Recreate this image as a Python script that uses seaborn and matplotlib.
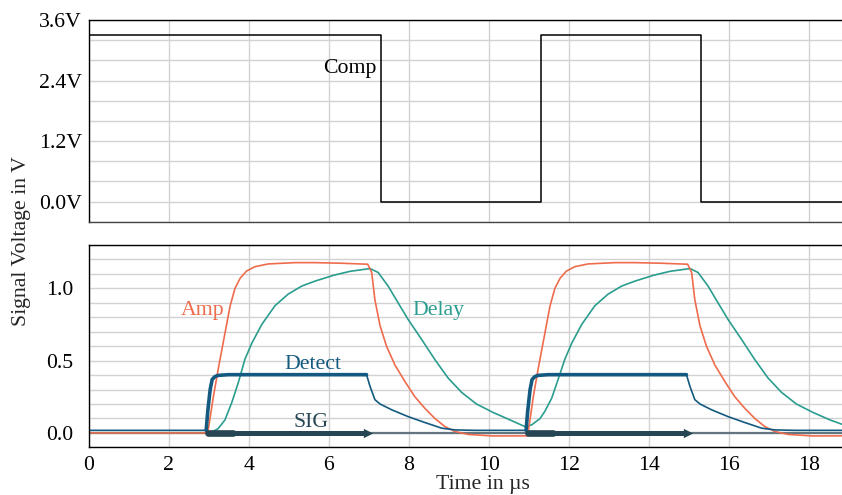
import numpy as np
import pandas as pd
import matplotlib
matplotlib.use("Agg")
import matplotlib.pyplot as plt
import seaborn as sns
from matplotlib.ticker import MultipleLocator, FixedLocator

# ---------------- data ----------------
comp_t = [0.0, 7.3, 7.3, 11.3, 11.3, 15.3, 15.3, 18.83]
comp_v = [3.3, 3.3, 0.0, 0.0, 3.3, 3.3, 0.0, 0.0]

amp_t = [0.0, 2.97, 3.11, 3.23, 3.40, 3.53, 3.65, 3.78, 3.94, 4.15, 4.48, 5.15, 5.65, 6.30,
         6.97, 7.07, 7.15, 7.28, 7.44, 7.65, 7.90, 8.15, 8.40, 8.65, 8.90, 9.15, 9.48, 10.11,
         10.97, 11.11, 11.23, 11.40, 11.53, 11.65, 11.78, 11.94, 12.15, 12.48, 13.15, 13.65,
         14.30, 14.97, 15.07, 15.15, 15.28, 15.44, 15.65, 15.90, 16.15, 16.40, 16.65, 16.90,
         17.15, 17.48, 18.11, 18.83]
amp_v = [0.0, 0.0, 0.25, 0.44, 0.69, 0.88, 1.00, 1.07, 1.12, 1.15, 1.169, 1.178, 1.178, 1.174,
         1.167, 1.11, 0.92, 0.74, 0.60, 0.47, 0.356, 0.25, 0.17, 0.10, 0.044, 0.01, -0.01, -0.021,
         -0.02, 0.25, 0.44, 0.69, 0.88, 1.00, 1.07, 1.12, 1.15, 1.169, 1.178, 1.178,
         1.174, 1.167, 1.11, 0.92, 0.74, 0.60, 0.47, 0.356, 0.25, 0.17, 0.10, 0.044,
         0.01, -0.01, -0.021, -0.02]

delay_t = [0.0, 3.03, 3.23, 3.40, 3.57, 3.73, 3.90, 4.07, 4.32, 4.65, 4.98, 5.32, 5.65, 6.11,
           6.53, 7.03, 7.23, 7.48, 7.73, 7.98, 8.32, 8.65, 8.98, 9.32, 9.69, 10.11, 10.53,
           10.90, 11.07, 11.28, 11.40, 11.57, 11.73, 11.90, 12.07, 12.32, 12.65, 12.98, 13.32,
           13.65, 14.11, 14.53, 15.03, 15.23, 15.48, 15.73, 15.98, 16.32, 16.65, 16.98, 17.32,
           17.69, 18.11, 18.53, 18.83]
delay_v = [0.0, 0.0, 0.03, 0.09, 0.21, 0.345, 0.51, 0.62, 0.75, 0.88, 0.96, 1.016, 1.05, 1.09,
           1.118, 1.137, 1.11, 1.016, 0.90, 0.785, 0.646, 0.507, 0.38, 0.28, 0.20, 0.141, 0.09,
           0.044, 0.056, 0.10, 0.15, 0.24, 0.37, 0.51, 0.62, 0.75, 0.88, 0.96, 1.016,
           1.05, 1.09, 1.118, 1.137, 1.11, 1.016, 0.90, 0.785, 0.646, 0.507, 0.38, 0.28,
           0.20, 0.141, 0.09, 0.06]

detect_t = [0.0, 2.93, 2.97, 3.03, 3.08, 3.15, 3.23, 3.48, 6.94, 7.03, 7.15, 7.28, 7.57, 7.98,
            8.40, 8.82, 9.15, 9.65, 10.93, 10.97, 11.03, 11.08, 11.15, 11.23, 11.48, 14.94,
            15.03, 15.15, 15.28, 15.57, 15.98, 16.40, 16.82, 17.15, 17.65, 18.83]
detect_v = [0.018, 0.018, 0.15, 0.30, 0.37, 0.39, 0.398, 0.403, 0.403, 0.32, 0.23, 0.20, 0.16,
            0.113, 0.072, 0.033, 0.021, 0.018, 0.018, 0.15, 0.30, 0.37, 0.39, 0.398, 0.403,
            0.403, 0.32, 0.23, 0.20, 0.16, 0.113, 0.072, 0.033, 0.021, 0.018, 0.018]
detect_hold_start = [2.93, 10.93]
detect_hold_end = [6.94, 14.94]

sig_base_t = [0.0, 18.83]
sig_base_v = [0.0, 0.0]
sig_on = [2.97, 10.97]
sig_off = [6.97, 14.97]
sig_burst = [3.6, 11.6]

top_ticks = [0.0, 1.2, 2.4, 3.6]
top_labels = ["0.0V", "1.2V", "2.4V", "3.6V"]
bot_ticks = [0.0, 0.5, 1.0]
bot_labels = ["0.0", "0.5", "1.0"]
x_ticks = [0, 2, 4, 6, 8, 10, 12, 14, 16, 18]

C_AMP = "#ee6c4d"
C_DELAY = "#2a9d8f"
C_DETECT = "#145a80"
C_SIG = "#264653"
C_BASE = "#627580"

# ---------------- style ----------------
sns.set_theme(style="white")
plt.rcParams['font.family'] = ['Liberation Serif', 'DejaVu Serif']
FS = 15.7
GRID = "#d2d2d2"

fig = plt.figure(figsize=(8.42, 4.95), dpi=100)
W, H = 842, 495
L = 89 / W
AW = (W - 89) / W
ax1 = fig.add_axes([L, 1 - 221.7 / H, AW, (221.7 - 20) / H])
ax2 = fig.add_axes([L, 1 - 447.4 / H, AW, (447.4 - 245) / H])

XMAX = 18.83

# ---- top panel ----
sns.lineplot(x=comp_t, y=comp_v, ax=ax1, color="black", linewidth=1.1,
             sort=False, estimator=None)
ax1.set_xlim(0, XMAX)
ax1.set_ylim(-0.4, 3.6)
ax1.yaxis.set_major_locator(FixedLocator(top_ticks))
ax1.set_yticklabels(top_labels)
ax1.yaxis.set_minor_locator(MultipleLocator(0.4))
ax1.xaxis.set_major_locator(FixedLocator(x_ticks))
ax1.tick_params(axis="x", which="both", length=0, labelbottom=False)
ax1.tick_params(axis="y", which="both", length=0, pad=5, labelsize=FS, colors="black")
ax1.grid(True, which="both", color=GRID, linewidth=1.0)
ax1.set_axisbelow(True)
ax1.text(6.53, 2.63, "Comp", color="black", fontsize=FS, ha="center", va="center")

# ---- bottom panel ----
sns.lineplot(x=sig_base_t, y=sig_base_v, ax=ax2, color=C_BASE, linewidth=1.6,
             sort=False, estimator=None)
sns.lineplot(x=delay_t, y=delay_v, ax=ax2, color=C_DELAY, linewidth=1.2,
             sort=False, estimator=None)
sns.lineplot(x=amp_t, y=amp_v, ax=ax2, color=C_AMP, linewidth=1.2,
             sort=False, estimator=None)
sns.lineplot(x=detect_t, y=detect_v, ax=ax2, color=C_DETECT, linewidth=1.2,
             sort=False, estimator=None)
dt = np.array(detect_t)
dv = np.array(detect_v)
for s, e in zip(detect_hold_start, detect_hold_end):
    m = (dt >= s) & (dt <= e)
    sns.lineplot(x=dt[m], y=dv[m], ax=ax2, color=C_DETECT, linewidth=2.6,
                 sort=False, estimator=None)
for s, e, b in zip(sig_on, sig_off, sig_burst):
    sns.lineplot(x=[s, e - 0.05], y=[0.0, 0.0], ax=ax2, color=C_SIG, linewidth=3.6,
                 sort=False, estimator=None, solid_capstyle="butt")
    sns.lineplot(x=[s, b], y=[0.0, 0.0], ax=ax2, color=C_SIG, linewidth=4.8,
                 sort=False, estimator=None, solid_capstyle="round")
sns.scatterplot(x=sig_off, y=[0.0] * len(sig_off), ax=ax2, marker=">", s=45,
                color=C_SIG, edgecolor=C_SIG, linewidth=0, zorder=5)

ax2.set_xlim(0, XMAX)
ax2.set_ylim(-0.1, 1.3)
ax2.yaxis.set_major_locator(FixedLocator(bot_ticks))
ax2.set_yticklabels(bot_labels)
ax2.yaxis.set_minor_locator(MultipleLocator(0.1))
ax2.xaxis.set_major_locator(FixedLocator(x_ticks))
ax2.set_xticklabels([str(v) for v in x_ticks])
ax2.tick_params(axis="x", which="major", length=4, width=1, pad=2, labelsize=FS,
                colors="black", direction="out")
ax2.tick_params(axis="y", which="both", length=0, pad=11, labelsize=FS, colors="black")
ax2.grid(True, which="both", color=GRID, linewidth=1.0)
ax2.set_axisbelow(True)
ax2.set_xlabel("")
ax2.set_ylabel("")
ax1.set_xlabel("")
ax1.set_ylabel("")

ax2.text(2.85, 0.85, "Amp", color=C_AMP, fontsize=FS, ha="center", va="center")
ax2.text(8.73, 0.85, "Delay", color=C_DELAY, fontsize=FS, ha="center", va="center")
ax2.text(5.6, 0.47, "Detect", color=C_DETECT, fontsize=FS, ha="center", va="center")
ax2.text(5.55, 0.07, "SIG", color=C_SIG, fontsize=FS, ha="center", va="center")

for ax in (ax1, ax2):
    ax.spines["right"].set_visible(False)
    for sp in ("left", "top", "bottom"):
        ax.spines[sp].set_color("black")
        ax.spines[sp].set_linewidth(1.0)
ax1.spines["bottom"].set_color("#444444")

fig.text(21.5 / W, 1 - 241 / H, "Signal Voltage in V", rotation=90, fontsize=FS,
         ha="center", va="center")
fig.text(483 / W, 1 - 484 / H, "Time in µs", fontsize=FS, ha="center", va="center")

fig.savefig("out.png", dpi=100)
